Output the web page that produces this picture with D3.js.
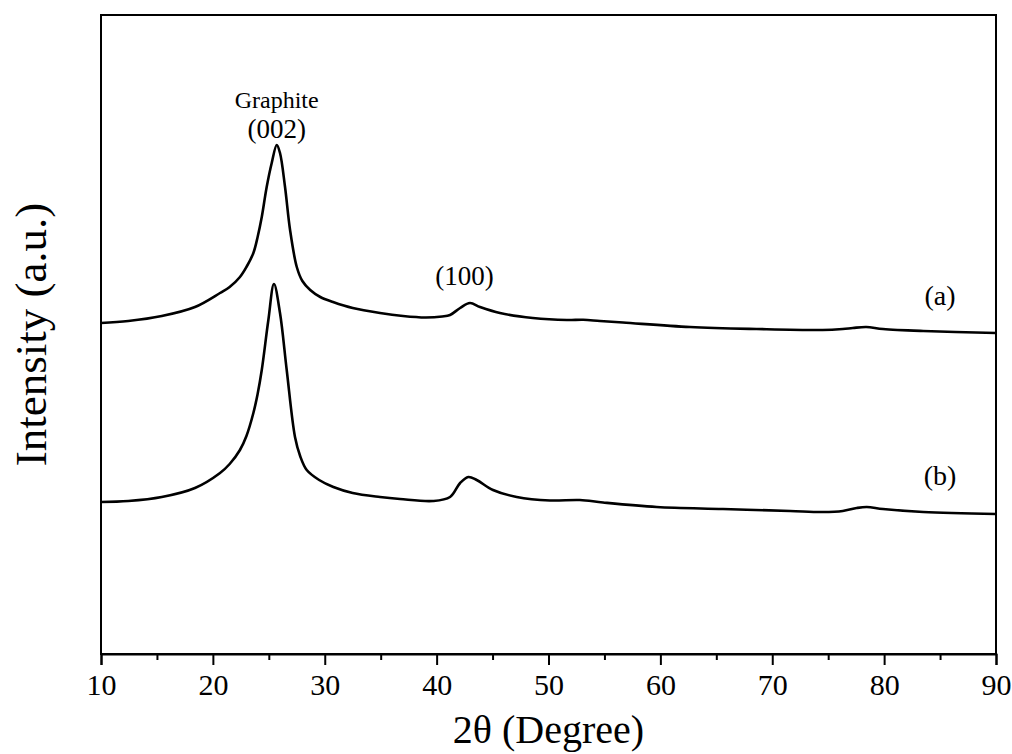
<!DOCTYPE html>
<html>
<head>
<meta charset="utf-8">
<script src="https://cdn.jsdelivr.net/npm/d3@7"></script>
<style>
  html, body { margin: 0; padding: 0; background: #fff; }
  svg { display: block; }
  svg text { font-family: "Liberation Serif", "Times New Roman", serif; fill: #000; }
</style>
</head>
<body>
<svg id="chart" width="1012" height="754"></svg>
<script>
// 2θ (degree) and intensity (a.u.) for each pattern
const thetaA = [10.0, 12.44, 15.43, 18.4, 20.64, 21.5, 22.42, 23.0, 23.62, 24.0, 24.37, 24.81, 25.26, 25.71, 26.0, 26.45, 26.9, 27.5, 28.0, 28.7, 29.6, 30.74, 32.5, 34.94, 37.0, 39.0, 40.5, 41.2, 42.1, 42.98, 43.88, 45.66, 48.6, 51.65, 53.1, 54.6, 56.66, 62.65, 68.6, 74.5, 76.3, 77.2, 78.4, 79.9, 83.5, 90.0];
const intensityA = [331, 333, 338, 347, 361, 367, 377, 387, 401, 417, 437, 467, 491, 509, 501, 467, 424, 387, 373, 364, 357, 352, 346, 341, 338, 336.5, 337.5, 339, 346, 351, 347, 341, 336, 334, 334.3, 333, 331.5, 327, 325, 324, 325, 326, 327, 325, 323, 321];

const thetaB = [10.0, 12.44, 15.43, 18.4, 20.64, 21.5, 22.42, 23.0, 23.62, 24.0, 24.37, 24.96, 25.46, 26.0, 26.6, 27.34, 27.8, 28.39, 29.5, 30.77, 32.5, 34.94, 36.73, 39.68, 41.2, 42.1, 42.83, 43.58, 45.04, 47.16, 50.13, 52.8, 54.87, 59.67, 65.6, 71.6, 74.5, 76.3, 77.55, 78.45, 79.9, 83.5, 90.0];
const intensityB = [152, 153, 157, 166, 181, 190, 204, 218, 241, 260, 284, 334, 370, 341, 284, 217, 198, 184, 174, 167, 161, 157, 155, 153, 157, 171, 177, 174, 164, 157, 153.5, 154, 151.5, 147, 145, 143, 142, 143, 146, 147, 145, 142, 140];

const xTicks = [10, 20, 30, 40, 50, 60, 70, 80, 90];
const xMinorTicks = [15, 25, 35, 45, 55, 65, 75, 85];

const peakLabels = [
  { text: "Graphite", theta: 25.7, intensity: 546, size: 24 },
  { text: "(002)", theta: 25.7, intensity: 516, size: 27 },
  { text: "(100)", theta: 42.5, intensity: 369, size: 27 }
];
const seriesLabels = [
  { text: "(a)", theta: 85.0, intensity: 349 },
  { text: "(b)", theta: 85.0, intensity: 169 }
];

const svg = d3.select("#chart");
const margin = { left: 101, right: 16, top: 15, bottom: 100 };
const W = 1012, H = 754;
const SERIF = '"Liberation Serif", "Times New Roman", serif';

const x = d3.scaleLinear().domain([10, 90]).range([margin.left, W - margin.right]);
const y = d3.scaleLinear().domain([0, 639]).range([H - margin.bottom, margin.top]);

// frame
svg.append("rect")
  .attr("x", margin.left).attr("y", margin.top)
  .attr("width", W - margin.right - margin.left)
  .attr("height", H - margin.bottom - margin.top)
  .attr("fill", "none").attr("stroke", "#000").attr("stroke-width", 2);

// x axis
const gx = svg.append("g").attr("transform", `translate(0,${H - margin.bottom})`);
gx.call(d3.axisBottom(x).tickValues(xMinorTicks).tickSize(6).tickFormat(""))
  .call(g => g.select(".domain").remove())
  .call(g => g.selectAll("line").attr("stroke-width", 2));
const gx2 = svg.append("g").attr("transform", `translate(0,${H - margin.bottom})`);
gx2.call(d3.axisBottom(x).tickValues(xTicks).tickSize(11).tickPadding(9).tickFormat(d3.format("d")))
  .attr("font-family", SERIF).attr("font-size", 30)
  .call(g => g.select(".domain").attr("stroke-width", 2))
  .call(g => g.selectAll("line").attr("stroke-width", 2))
  .call(g => g.selectAll("text")
    .style("font-family", SERIF)
    .style("font-size", "30px").attr("fill", "#000"));

// axis titles
svg.append("text")
  .attr("x", (margin.left + W - margin.right) / 2).attr("y", 743)
  .attr("text-anchor", "middle")
  .style("font-family", SERIF).style("font-size", "40px")
  .text("2θ (Degree)");
svg.append("text")
  .attr("transform", `translate(46,${(margin.top + H - margin.bottom) / 2}) rotate(-90)`)
  .attr("text-anchor", "middle")
  .style("font-family", SERIF).style("font-size", "45px")
  .text("Intensity (a.u.)");

// curves
const line = d3.line()
  .x(d => x(d[0])).y(d => y(d[1]))
  .curve(d3.curveCatmullRom.alpha(0.5));

const dataA = thetaA.map((t, i) => [t, intensityA[i]]);
const dataB = thetaB.map((t, i) => [t, intensityB[i]]);

[dataA, dataB].forEach(d => {
  svg.append("path")
    .datum(d)
    .attr("d", line)
    .attr("fill", "none")
    .attr("stroke", "#000")
    .attr("stroke-width", 2.6)
    .attr("stroke-linejoin", "round");
});

// annotations
svg.selectAll(".peak").data(peakLabels).enter().append("text")
  .attr("class", "peak")
  .attr("x", d => x(d.theta)).attr("y", d => y(d.intensity))
  .attr("text-anchor", "middle")
  .style("font-family", SERIF)
  .style("font-size", d => d.size + "px")
  .text(d => d.text);
svg.selectAll(".series").data(seriesLabels).enter().append("text")
  .attr("class", "series")
  .attr("x", d => x(d.theta)).attr("y", d => y(d.intensity))
  .attr("text-anchor", "middle")
  .style("font-family", SERIF)
  .style("font-size", "28px")
  .text(d => d.text);
</script>
</body>
</html>
